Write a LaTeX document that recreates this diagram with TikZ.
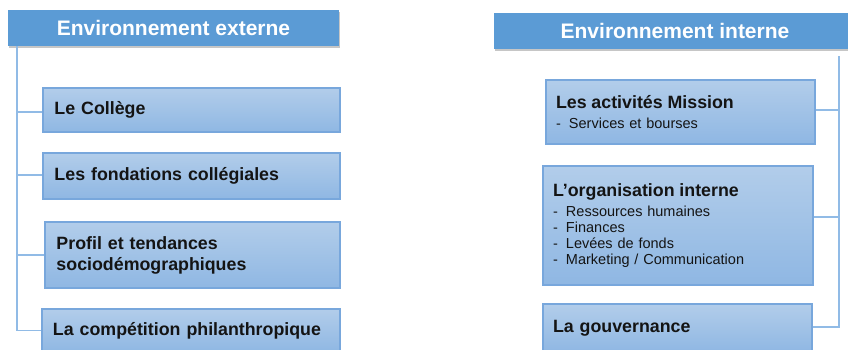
\documentclass[tikz,border=0pt]{standalone}
\usepackage{fontspec}
\setmainfont{Liberation Sans}
\usetikzlibrary{shadows}
\definecolor{hdrblue}{HTML}{5B9BD5}
\definecolor{boxtop}{RGB}{178,205,234}
\definecolor{boxbot}{RGB}{143,183,227}
\definecolor{boxline}{RGB}{120,167,220}
\definecolor{connblue}{RGB}{145,187,230}
\definecolor{txt}{RGB}{20,20,20}
\tikzset{
  hdr/.style={rectangle, fill=hdrblue, draw=none, text=white,
    font=\fontsize{21bp}{24bp}\selectfont\bfseries,
    drop shadow={shadow xshift=0.8bp, shadow yshift=-2bp, fill=black!50, opacity=0.45},
    inner sep=0pt},
  itembox/.style={rectangle, top color=boxtop, bottom color=boxbot, draw=boxline,
    line width=1.2bp, text=txt, align=left, inner ysep=0pt},
  conn/.style={draw=connblue, line width=1.6bp},
  ttl/.style={font=\fontsize{17.8bp}{21bp}\selectfont\bfseries},
}
\newcommand{\listitem}[1]{\makebox[13bp][l]{-}#1}
\begin{document}
\begin{tikzpicture}[x=1bp,y=-1bp]
\useasboundingbox (0,0) rectangle (848,349);
% headers
\node[hdr, minimum width=331bp, minimum height=36bp] (hL) at (173.5,28) {Environnement externe};
\node[hdr, minimum width=362bp, minimum height=36bp] (hR) at (675,31) {Environnement interne};
% left boxes
\node[itembox, ttl, minimum width=297bp, minimum height=44bp, text width=274bp, inner xsep=11.5bp] (b1) at (191.5,110) {Le Collège};
\node[itembox, ttl, minimum width=297bp, minimum height=46bp, text width=274bp, inner xsep=11.5bp] (b2) at (191.5,176) {Les fondations collégiales};
\node[itembox, ttl, minimum width=295bp, minimum height=66bp, text width=272bp, inner xsep=11.5bp] (b3) at (192.5,255) {Profil et tendances\\sociodémographiques};
\node[itembox, ttl, minimum width=298bp, minimum height=43bp, text width=276bp, inner xsep=11bp] (b4) at (191,330.5) {La compétition philanthropique};
% right boxes
\node[itembox, minimum width=269bp, minimum height=64bp, text width=249bp, inner xsep=10bp,
  font=\fontsize{14.5bp}{16.2bp}\selectfont] (r1) at (680.5,112)
  {{\fontsize{17.8bp}{20bp}\selectfont\bfseries Les activités Mission}\\[3.8bp]\listitem{Services et bourses}};
\node[itembox, minimum width=270bp, minimum height=119bp, text width=250bp, inner xsep=10bp,
  font=\fontsize{14.5bp}{16.2bp}\selectfont] (r2) at (678,225.5)
  {{\fontsize{17.8bp}{20bp}\selectfont\bfseries L’organisation interne}\\[3.8bp]\listitem{Ressources humaines}\\\listitem{Finances}\\\listitem{Levées de fonds}\\\listitem{Marketing / Communication}};
\node[itembox, ttl, minimum width=269bp, minimum height=48bp, text width=249bp, inner xsep=10bp] (r3) at (677.5,328) {La gouvernance};
% connectors left
\coordinate (lt) at (17,46);
\draw[conn] (lt) |- (b4.west);
\draw[conn] (lt) |- ([yshift=-2bp]b1.west);
\draw[conn] (lt) |- ([yshift=1bp]b2.west);
\draw[conn] (lt) |- (b3.west);
% connectors right
\coordinate (rt) at (839,56);
\draw[conn] (rt) |- ([yshift=1bp]r3.east);
\draw[conn] (rt) |- ([yshift=2bp]r1.east);
\draw[conn] (rt) |- ([yshift=8.5bp]r2.east);
\end{tikzpicture}
\end{document}
